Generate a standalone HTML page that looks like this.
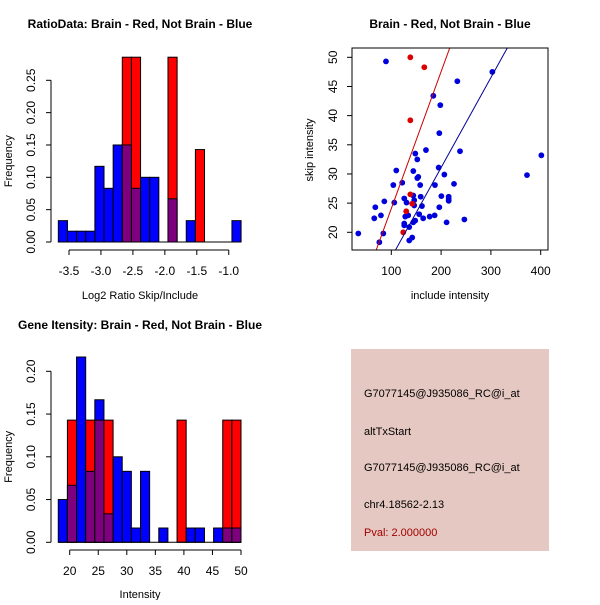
<!DOCTYPE html>
<html><head><meta charset="utf-8"><style>
body{margin:0;background:#fff;font-family:"Liberation Sans",sans-serif}
svg text{font-family:"Liberation Sans",sans-serif}
</style></head><body>
<svg id="s" width="600" height="600" xmlns="http://www.w3.org/2000/svg">
<rect width="600" height="600" fill="#fff"/>
<text x="140" y="28" font-size="12" font-weight="bold" text-anchor="middle">RatioData: Brain - Red, Not Brain - Blue</text>
<text x="450" y="28" font-size="12" font-weight="bold" text-anchor="middle">Brain - Red, Not Brain - Blue</text>
<text x="140" y="329" font-size="12" font-weight="bold" text-anchor="middle">Gene Itensity: Brain - Red, Not Brain - Blue</text>
<g id="g1"></g>
<g id="g2"></g>
<g id="g3"></g>
<g>
<rect x="351" y="349" width="198" height="202" fill="#E6C8C2"/>
<text x="364" y="397" font-size="11">G7077145@J935086_RC@i_at</text>
<text x="364" y="435" font-size="11">altTxStart</text>
<text x="364" y="471" font-size="11">G7077145@J935086_RC@i_at</text>
<text x="364" y="508" font-size="11">chr4.18562-2.13</text>
<text x="364" y="536" font-size="11" fill="#A00000">Pval: 2.000000</text>
</g>
</svg>
<script>
// Ratio histogram data
const ratioBinStart = -3.667, ratioBinWidth = 0.143;
const ratioBlue = [0.033,0.0167,0.0167,0.0167,0.117,0.083,0.15,0.15,0.083,0.1,0.1,0,0.0667,0,0.033,0,0,0,0,0.033];
const ratioRed  = [0,0,0,0,0,0,0,0.2857,0.2857,0,0,0,0.2857,0,0,0.1429,0,0,0,0];
const ratioXTicks = [-3.5,-3.0,-2.5,-2.0,-1.5,-1.0];
const ratioXLabels = ["-3.5","-3.0","-2.5","-2.0","-1.5","-1.0"];
const ratioYTicks = [0,0.05,0.10,0.15,0.20,0.25];
const ratioYLabels = ["0.00","0.05","0.10","0.15","0.20","0.25"];
// Intensity histogram data
const intBinStart = 18, intBinWidth = 1.6;
const intBlue = [0.05,0.0667,0.2167,0.083,0.1667,0.0333,0.1,0.083,0.0167,0.083,0,0.0167,0,0,0.0167,0.0167,0,0.0167,0.0167,0.0167];
const intRed  = [0,0.1429,0,0.1429,0.1429,0.1429,0,0,0,0,0,0,0,0.1429,0,0,0,0,0.1429,0.1429];
const intXTicks = [20,25,30,35,40,45,50];
const intXLabels = ["20","25","30","35","40","45","50"];
const intYTicks = [0,0.05,0.10,0.15,0.20];
const intYLabels = ["0.00","0.05","0.10","0.15","0.20"];
// Scatter data
const blueX = [33.7,89.3,302.9,232.6,184.4,198.4,196.4,238,401.3,148.2,169.6,152.2,110,144.2,195.1,206.5,372.5,154.2,152.2,104,122,158,187.7,225.9,200.5,215.2,215.2,215.2,144.2,159,126,106,130.6,146,67.9,86,146,161.6,196.4,79.2,65.8,128,134,156,164,177,187,211,246.7,126,126,144,148,136,142,136,84,76];
const blueY = [19.8,49.3,47.5,45.9,43.4,41.8,37.0,33.9,33.2,33.5,34.1,32.5,30.6,30.5,31.1,29.9,29.8,29.5,29.3,28.1,28.5,28.1,28.1,28.3,26.2,26.1,25.7,25.4,26.3,26.1,25.8,25.1,25.1,25.5,24.3,25.3,24.6,24.5,24.3,22.9,22.4,22.7,22.9,23.1,22.4,22.7,22.9,21.7,22.2,21.5,21.2,21.7,22.0,20.9,19.1,18.6,19.8,18.3];
const redX = [138.2,166.3,138.2,138.2,142,130,124];
const redY = [50.0,48.3,39.2,26.5,24.9,23.6,20.0];
const redFit = [0.6, 0.2347];   // intercept, slope
const blueFit = [0.23, 0.1543];
const scXTicks = [100,200,300,400];
const scYTicks = [20,25,30,35,40,45,50];

const NS="http://www.w3.org/2000/svg";
function mk(parent,tag,attrs){const e=document.createElementNS(NS,tag);for(const k in attrs)e.setAttribute(k,attrs[k]);parent.appendChild(e);return e;}

function hist(g,start,w,blue,red,xScale,yScale,xTicks,xLabels,yTicks,yLabels,axisY,tickLabelY,xTitle,titleY){
  const y0=yScale(0);
  for(let i=0;i<blue.length;i++){
    const x1=xScale(start+i*w),x2=xScale(start+(i+1)*w);
    const b=blue[i],r=red[i],m=Math.min(b,r),mx=Math.max(b,r);
    if(mx<=0)continue;
    const top=mk(g,'rect',{x:x1,y:yScale(mx),width:x2-x1,height:y0-yScale(mx),fill:b>=r?'#0000FF':'#FF0000',stroke:'#000','stroke-width':1});
    
    
    if(m>0){
      const p=mk(g,'rect',{x:x1,y:yScale(m),width:x2-x1,height:y0-yScale(m),fill:'#7F007F',stroke:'#000','stroke-width':1});
      
      
    }
  }
  mk(g,'line',{x1:xScale(start),x2:xScale(start+blue.length*w),y1:y0,y2:y0,stroke:'#000'});
  mk(g,'line',{x1:xScale(xTicks[0]),x2:xScale(xTicks[xTicks.length-1]),y1:axisY,y2:axisY,stroke:'#000'});
  xTicks.forEach((t,i)=>{mk(g,'line',{x1:xScale(t),x2:xScale(t),y1:axisY,y2:axisY+5,stroke:'#000'});
    const tx=mk(g,'text',{x:xScale(t),y:tickLabelY,'font-size':12,'text-anchor':'middle'});tx.textContent=xLabels[i];
    
    });
  const ax=51;
  mk(g,'line',{x1:ax,x2:ax,y1:yScale(yTicks[0]),y2:yScale(yTicks[yTicks.length-1]),stroke:'#000'});
  yTicks.forEach((t,i)=>{const yy=yScale(t);mk(g,'line',{x1:ax-5,x2:ax,y1:yy,y2:yy,stroke:'#000'});
    const tx=mk(g,'text',{x:0,y:0,'font-size':12,'text-anchor':'middle',transform:`translate(35,${yy}) rotate(-90)`});tx.textContent=yLabels[i];
    
    });
  const xt=mk(g,'text',{x:140,y:titleY,'font-size':11,'text-anchor':'middle'});xt.textContent=xTitle;
  
  
  const yt=mk(g,'text',{x:0,y:0,'font-size':11,'text-anchor':'middle',transform:`translate(12,${(yScale(0)+yScale(yTicks[yTicks.length-1]))/2}) rotate(-90)`});yt.textContent='Frequency';
  
  
}

const x1s=v=>69+(v+3.5)*63.9, y1s=v=>242-v*646.8;
hist(document.getElementById('g1'),ratioBinStart,ratioBinWidth,ratioBlue,ratioRed,x1s,y1s,ratioXTicks,ratioXLabels,ratioYTicks,ratioYLabels,250,275,'Log2 Ratio Skip/Include',299);
const x3s=v=>69.7+(v-20)*5.71, y3s=v=>542.3-v*855;
hist(document.getElementById('g3'),intBinStart,intBinWidth,intBlue,intRed,x3s,y3s,intXTicks,intXLabels,intYTicks,intYLabels,550,575,'Intensity',598);

(function(){
  const g=document.getElementById('g2');
  const L=352,R=548,T=48,B=250;
  const xs=v=>391.3+(v-100)*0.498, ys=v=>232.3-(v-20)*5.833;
  const cp=mk(g,'clipPath',{id:'cp'});mk(cp,'rect',{x:L,y:T,width:R-L,height:B-T});
  blueX.forEach((x,i)=>{const c=mk(g,'circle',{cx:xs(x),cy:ys(blueY[i]),r:2.9,fill:'#0000DD'});
    
    });
  redX.forEach((x,i)=>{const c=mk(g,'circle',{cx:xs(x),cy:ys(redY[i]),r:2.9,fill:'#DD0000'});
    
    });
  [[redFit,'#CC0000','red-fit-line'],[blueFit,'#000099','blue-fit-line']].forEach(([f,c,n])=>{
    const xa=0,xb=500;
    const l=mk(g,'line',{x1:xs(xa),y1:ys(f[0]+f[1]*xa),x2:xs(xb),y2:ys(f[0]+f[1]*xb),stroke:c,'stroke-width':1,'clip-path':'url(#cp)'});
    
    
  });
  mk(g,'rect',{x:L,y:T,width:R-L,height:B-T,fill:'none',stroke:'#000'});
  scXTicks.forEach(t=>{const x=xs(t);mk(g,'line',{x1:x,x2:x,y1:B,y2:B+5,stroke:'#000'});
    const tx=mk(g,'text',{x:x,y:275,'font-size':12,'text-anchor':'middle'});tx.textContent=t;
    
    });
  scYTicks.forEach(t=>{const y=ys(t);mk(g,'line',{x1:L-5,x2:L,y1:y,y2:y,stroke:'#000'});
    const tx=mk(g,'text',{x:0,y:0,'font-size':12,'text-anchor':'middle',transform:`translate(337,${y}) rotate(-90)`});tx.textContent=t;
    
    });
  const xt=mk(g,'text',{x:450,y:299,'font-size':11,'text-anchor':'middle'});xt.textContent='include intensity';
  
  
  const yt=mk(g,'text',{x:0,y:0,'font-size':11,'text-anchor':'middle',transform:'translate(313,150) rotate(-90)'});yt.textContent='skip intensity';
  
  
})();
</script>
</body></html>
